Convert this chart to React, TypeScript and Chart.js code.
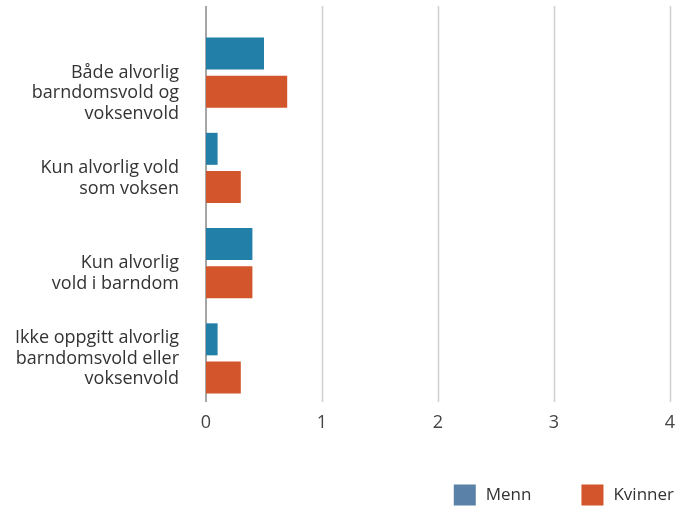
import React, { useEffect, useRef } from "react";
import { Chart, registerables } from "chart.js";

Chart.register(...registerables);

const categories: string[][] = [
  ["", "", "Både alvorlig", "barndomsvold og", "voksenvold"],
  ["", "Kun alvorlig vold", "som voksen"],
  ["", "Kun alvorlig", "vold i barndom"],
  ["Ikke oppgitt alvorlig", "barndomsvold eller", "voksenvold"],
];
const menn = [0.5, 0.1, 0.4, 0.1];
const kvinner = [0.7, 0.3, 0.4, 0.3];
const seriesNames = ["Menn", "Kvinner"];
const barColors = ["#2280a8", "#d2552b"];
const legendColors = ["#5a82a8", "#d2552b"];
const xMin = 0;
const xMax = 4;

const FONT = "'Open Sans', 'Noto Sans', sans-serif";

const gridPlugin = {
  id: "customGrid",
  beforeDatasetsDraw(chart: any) {
    const { ctx, scales } = chart;
    const x = scales.x;
    ctx.save();
    x.ticks.forEach((t: any) => {
      const px = x.getPixelForValue(t.value);
      if (t.value === 0) return;
      ctx.strokeStyle = "#d0d0d0";
      ctx.lineWidth = 1.5;
      ctx.beginPath();
      ctx.moveTo(Math.round(px) + 0.5, 6);
      ctx.lineTo(Math.round(px) + 0.5, 402);
      ctx.stroke();
    });
    const zx = x.getPixelForValue(0);
    ctx.strokeStyle = "#888888";
    ctx.lineWidth = 1.5;
    ctx.beginPath();
    ctx.moveTo(zx, 6);
    ctx.lineTo(zx, 402);
    ctx.stroke();
    ctx.restore();
  },
};

const legendPlugin = {
  id: "customLegend",
  afterDraw(chart: any) {
    const { ctx } = chart;
    ctx.save();
    ctx.font = `17px ${FONT}`;
    ctx.textBaseline = "middle";
    const box = 22;
    const gap = 10;
    const itemGap = 50;
    const widths = seriesNames.map((n) => box + gap + ctx.measureText(n).width);
    const total = widths.reduce((a, b) => a + b, 0) + itemGap * (widths.length - 1);
    let x = chart.width - 1 - total;
    const cy = 495;
    seriesNames.forEach((n, i) => {
      ctx.fillStyle = legendColors[i];
      ctx.fillRect(x, cy - 10.5, box, 21);
      ctx.fillStyle = "#333333";
      ctx.fillText(n, x + box + gap, cy);
      x += widths[i] + itemGap;
    });
    ctx.restore();
  },
};

export default function App() {
  const ref = useRef<HTMLCanvasElement | null>(null);
  useEffect(() => {
    document.body.style.margin = "0";
    if (!ref.current) return;
    const chart = new Chart(ref.current, {
      type: "bar",
      data: {
        labels: categories,
        datasets: [
          {
            label: seriesNames[0],
            data: menn,
            backgroundColor: barColors[0],
            categoryPercentage: 0.8,
            barPercentage: 0.84,
          },
          {
            label: seriesNames[1],
            data: kvinner,
            backgroundColor: barColors[1],
            categoryPercentage: 0.8,
            barPercentage: 0.84,
          },
        ],
      },
      options: {
        indexAxis: "y",
        animation: false,
        responsive: false,
        layout: { padding: { top: 25, right: 5, bottom: 0, left: 0 } },
        plugins: {
          legend: { display: false },
          tooltip: { enabled: false },
        },
        scales: {
          x: {
            min: xMin,
            max: xMax,
            grid: { display: false, drawTicks: false },
            border: { display: false },
            ticks: {
              stepSize: 1,
              padding: 6,
              color: "#444444",
              font: { family: FONT, size: 18 },
            },
            afterFit(s: any) {
              s.height = 100;
              s.paddingLeft = 0;
              s.paddingRight = 0;
            },
          },
          y: {
            grid: { display: false, drawTicks: false },
            border: { display: false },
            ticks: {
              autoSkip: false,
              padding: 27,
              color: "#333333",
              font: { family: FONT, size: 18, lineHeight: 1.14 },
            },
            afterFit(s: any) {
              s.width = 206;
              s.paddingTop = 0;
              s.paddingBottom = 0;
            },
          },
        },
      },
      plugins: [gridPlugin, legendPlugin],
    });
    return () => chart.destroy();
  }, []);
  return (
    <div style={{ width: 675, height: 506 }}>
      <canvas ref={ref} width={675} height={506} />
    </div>
  );
}
